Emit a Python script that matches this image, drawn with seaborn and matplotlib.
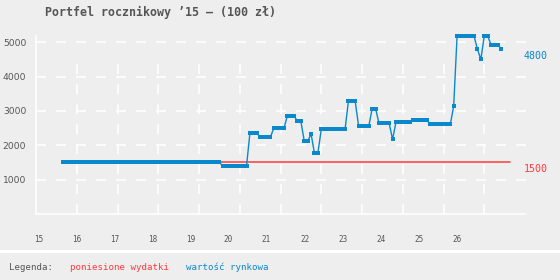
import numpy as np
import pandas as pd
import matplotlib
matplotlib.use("Agg")
import matplotlib.pyplot as plt
import seaborn as sns
from matplotlib import transforms
from matplotlib.patches import Rectangle

# ---------------- data ----------------
title = "Portfel rocznikowy ’15 – (100 zł)"
series_start = "2015-09-01"          # first monthly observation
market_values = [
    # 2015 (Sep-Dec)
    1500, 1500, 1500, 1500,
    # 2016
    1500, 1500, 1500, 1500, 1500, 1500, 1500, 1500, 1500, 1500, 1500, 1500,
    # 2017
    1500, 1500, 1500, 1500, 1500, 1500, 1500, 1500, 1500, 1500, 1500, 1500,
    # 2018
    1500, 1500, 1500, 1500, 1500, 1500, 1500, 1500, 1500, 1500, 1500, 1500,
    # 2019
    1500, 1500, 1500, 1500, 1500, 1500, 1500, 1400, 1400, 1400, 1400, 1400,
    # 2020
    1400, 1400, 1400, 2360, 2360, 2360, 2230, 2230, 2230, 2230, 2490, 2490,
    # 2021
    2490, 2490, 2850, 2850, 2850, 2700, 2700, 2120, 2120, 2330, 1770, 1770,
    # 2022
    2460, 2460, 2460, 2460, 2460, 2460, 2460, 2460, 3280, 3280, 3280, 2560,
    # 2023
    2560, 2560, 2560, 3070, 3070, 2640, 2640, 2640, 2640, 2170, 2670, 2670,
    # 2024
    2670, 2670, 2670, 2750, 2750, 2750, 2750, 2750, 2610, 2610, 2610, 2610,
    # 2025
    2610, 2610, 2610, 3140, 5180, 5180, 5180, 5180, 5180, 5180, 4790, 4500,
    # 2026 (Jan-Jun)
    5180, 5180, 4930, 4930, 4930, 4800,
]
cost_years = [15.667, 26.625]
cost_values = [1500, 1500]
y_ticks = [1000, 2000, 3000, 4000, 5000]
x_tick_labels = ["15", "16", "17", "18", "19", "20", "21", "22", "23", "24", "25", "26"]
grid_years = [16, 17, 18, 19, 20, 21, 22, 23, 24, 25, 26]
legend_title = "Legenda:"
legend_labels = ["poniesione wydatki", "wartość rynkowa"]

# ---------------- style ----------------
BG = "#eeeeee"
BLUE = "#0a88cc"
RED = "#ff3b3b"
GRAY = "#555555"
MONO = "DejaVu Sans Mono"

sns.set_theme(style="white")
plt.rcParams["font.family"] = ["DejaVu Sans"]
plt.rcParams["lines.scale_dashes"] = False

dates = pd.date_range(series_start, periods=len(market_values), freq="MS")
years = (dates.year - 2000) + (dates.month - 1) / 12.0
df = pd.DataFrame({"rok": years, "wartosc": market_values})
df_cost = pd.DataFrame({"rok": cost_years, "wydatki": cost_values})

W, H = 560, 280
fig = plt.figure(figsize=(W / 100, H / 100), dpi=100, facecolor=BG)
ax = fig.add_axes([36 / W, 66 / H, (525 - 36) / W, (214 - 36) / H])
ax.set_facecolor(BG)
ax.set_xlim(15, 27)
ax.set_ylim(0, 5180)

dash = (0, (7.2, 7.2))
ax.hlines(y_ticks, 15, 27.05, colors="white", linewidth=1.1, linestyles=dash,
          clip_on=False, zorder=1)
ax.vlines(grid_years, 0, 4390, colors="white", linewidth=1.1, linestyles=dash, zorder=1)

for s in ["top", "right"]:
    ax.spines[s].set_visible(False)
for s in ["left", "bottom"]:
    ax.spines[s].set_color("white")
    ax.spines[s].set_linewidth(1.1)

sns.lineplot(data=df_cost, x="rok", y="wydatki", ax=ax, color=RED, linewidth=1.1,
             zorder=3)
sns.lineplot(data=df, x="rok", y="wartosc", ax=ax, color=BLUE, linewidth=1.0,
             marker="s", markersize=2.3, markeredgewidth=0, clip_on=False, zorder=4)

ax.set_xlabel("")
ax.set_ylabel("")
ax.set_yticks(y_ticks)
ax.set_yticklabels([str(v) for v in y_ticks], fontsize=6.6, color=GRAY)
ax.tick_params(axis="y", length=0, pad=7)

# x tick labels sit on a slightly narrower scale than the grid in the original
px_per_year = 40.6
label_pos = [15 + (2.3 + 37.9 * i) / px_per_year for i in range(len(x_tick_labels))]
ax.set_xticks(label_pos)
ax.set_xticklabels(x_tick_labels, fontsize=5.5, color=GRAY, family=MONO)
ax.tick_params(axis="x", length=0, pad=15)

# right-hand value labels
tr = transforms.blended_transform_factory(ax.transAxes, ax.transData)
ax.annotate(f"{market_values[-1]}", xy=(1, market_values[-1]), xycoords=tr,
            xytext=(7.5, -5), textcoords="offset points", ha="center", va="center",
            color=BLUE, fontsize=7.2, family=MONO, annotation_clip=False)
ax.annotate(f"{cost_values[-1]}", xy=(1, cost_values[-1]), xycoords=tr,
            xytext=(7.5, -5), textcoords="offset points", ha="center", va="center",
            color=RED, fontsize=7.2, family=MONO, annotation_clip=False)

# title
fig.text(45 / W, 1 - 12 / H, title, family=MONO, weight="bold", fontsize=8.4,
         color=GRAY, va="center", ha="left")

# legend band
fig.patches.append(Rectangle((0, (H - 253) / H), 1, 3 / H, transform=fig.transFigure,
                             facecolor="white", edgecolor="none", zorder=0))
ly = 13 / H
fig.text(9 / W, ly, legend_title, family=MONO, fontsize=6.6, color=GRAY, va="center")
fig.text(70 / W, ly, legend_labels[0], family=MONO, fontsize=6.6, color=RED, va="center")
fig.text(186 / W, ly, legend_labels[1], family=MONO, fontsize=6.6, color=BLUE, va="center")

fig.savefig("out.png", dpi=100, facecolor=BG)
